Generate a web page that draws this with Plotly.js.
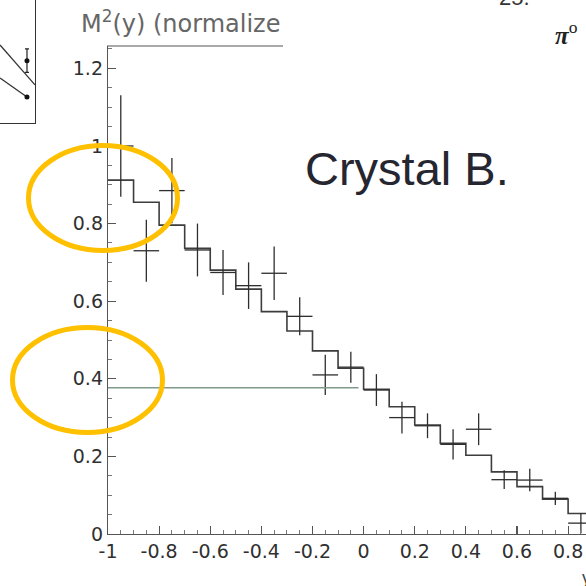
<!DOCTYPE html>
<html>
<head>
<meta charset="utf-8">
<script src="https://cdn.plot.ly/plotly-3.0.1.min.js"></script>
<style>
  html, body { margin: 0; padding: 0; background: #fff; }
  #chart { width: 586px; height: 586px; }
</style>
</head>
<body>
<div id="chart"></div>
<script>
// Histogram of the model: lower bin edges and contents (bin width 0.1)
const binEdges = [-1.0, -0.9, -0.8, -0.7, -0.6, -0.5, -0.4, -0.3, -0.2, -0.1,
                  0.0, 0.1, 0.2, 0.3, 0.4, 0.5, 0.6, 0.7, 0.8];
const histValues = [0.912, 0.855, 0.796, 0.736, 0.680, 0.631, 0.573, 0.523, 0.472, 0.427,
                    0.373, 0.328, 0.281, 0.234, 0.203, 0.160, 0.122, 0.090, 0.053];

// Measured points (bin centres) with symmetric errors
const pointX = [-0.95, -0.85, -0.75, -0.65, -0.55, -0.45, -0.35, -0.25, -0.15, -0.05,
                0.05, 0.15, 0.25, 0.35, 0.45, 0.55, 0.65, 0.75, 0.85];
const pointY = [1.000, 0.730, 0.885, 0.732, 0.674, 0.640, 0.672, 0.561, 0.410, 0.430,
                0.371, 0.300, 0.279, 0.231, 0.270, 0.140, 0.139, 0.092, 0.028];
const pointErr = [0.131, 0.080, 0.084, 0.068, 0.058, 0.060, 0.069, 0.049, 0.052, 0.040,
                  0.041, 0.041, 0.032, 0.039, 0.041, 0.024, 0.029, 0.017, 0.026];
const halfBin = 0.05;

// Reference level line
const levelX = [-1.0, -0.02];
const levelY = [0.377, 0.377];

// Tick labels
const xTickVals = [-1, -0.8, -0.6, -0.4, -0.2, 0, 0.2, 0.4, 0.6, 0.8];
const xTickText = ['-1', '-0.8', '-0.6', '-0.4', '-0.2', '0', '0.2', '0.4', '0.6', '0.8'];
const yTickVals = [0, 0.2, 0.4, 0.6, 0.8, 1, 1.2];
const yTickText = ['0', '0.2', '0.4', '0.6', '0.8', '1', '1.2'];

// Neighbouring small panel (its own unit coordinates)
const insetLineAX = [0.0, 1.0];
const insetLineAY = [0.634, 0.310];
const insetLineBX = [0.0, 0.771];
const insetLineBY = [0.366, 0.211];
const insetDotX = [0.771, 0.771];
const insetDotY = [0.507, 0.211];
const insetDotErr = [0.095, 0];

// Pixel helpers for a 586 x 586 figure with zero margins
const W = 586, H = 586;
const px = v => v / W;
const py = v => 1 - v / H;

const stepX = binEdges.concat([binEdges[binEdges.length - 1] + 0.1]);
const stepY = histValues.concat([histValues[histValues.length - 1]]);

const ink = '#2e2e2e';
const axisInk = '#555';
const gold = '#FFC000';

const traces = [
  {
    x: stepX, y: stepY, type: 'scatter', mode: 'lines',
    line: { shape: 'hv', color: '#3d3d3d', width: 1.6 },
    hoverinfo: 'skip', showlegend: false
  },
  {
    x: pointX, y: pointY, type: 'scatter', mode: 'markers',
    marker: { size: 1, color: 'rgba(0,0,0,0)' },
    error_y: { type: 'data', array: pointErr, symmetric: true, width: 0, thickness: 1.3, color: ink },
    error_x: { type: 'constant', value: halfBin, width: 0, thickness: 1.3, color: ink },
    showlegend: false
  },
  {
    x: levelX, y: levelY, type: 'scatter', mode: 'lines',
    line: { color: '#7f9a8b', width: 1.5 },
    showlegend: false
  },
  {
    x: insetLineAX, y: insetLineAY, xaxis: 'x2', yaxis: 'y2', type: 'scatter', mode: 'lines',
    line: { color: '#333', width: 1.3 }, showlegend: false
  },
  {
    x: insetLineBX, y: insetLineBY, xaxis: 'x2', yaxis: 'y2', type: 'scatter', mode: 'lines',
    line: { color: '#333', width: 1.3 }, showlegend: false
  },
  {
    x: insetDotX, y: insetDotY, xaxis: 'x2', yaxis: 'y2', type: 'scatter', mode: 'markers',
    marker: { size: 5, color: '#111' },
    error_y: { type: 'data', array: insetDotErr, width: 2, thickness: 1.2, color: '#222' },
    showlegend: false
  }
];

const tickFont = { family: 'DejaVu Sans, sans-serif', size: 19, color: '#303030' };

const layout = {
  width: W, height: H,
  margin: { l: 0, r: 0, t: 0, b: 0 },
  paper_bgcolor: '#fff', plot_bgcolor: '#fff',
  showlegend: false,
  title: {
    text: 'M<sup>2</sup>(y) (normalize',
    x: px(81), xanchor: 'left', xref: 'paper',
    y: py(24), yanchor: 'middle', yref: 'paper',
    font: { family: 'DejaVu Sans, sans-serif', size: 24, color: '#666' }
  },
  xaxis: {
    domain: [px(108), 1],
    range: [-1, 0.870],
    showgrid: false, zeroline: false,
    showline: true, linecolor: axisInk, linewidth: 1.2,
    ticks: 'inside', ticklen: 8, tickwidth: 1.1, tickcolor: axisInk,
    tickvals: xTickVals, ticktext: xTickText,
    tickfont: tickFont,
    minor: { dtick: 0.05, ticks: 'inside', ticklen: 4, tickwidth: 1, tickcolor: '#777', showgrid: false },
    fixedrange: true
  },
  yaxis: {
    domain: [py(534), py(46)],
    range: [0, 1.2577],
    showgrid: false, zeroline: false,
    showline: true, linecolor: axisInk, linewidth: 1.2,
    ticks: 'inside', ticklen: 8, tickwidth: 1.1, tickcolor: axisInk,
    tickvals: yTickVals, ticktext: yTickText,
    tickfont: tickFont,
    minor: { dtick: 0.05, ticks: 'inside', ticklen: 4, tickwidth: 1, tickcolor: '#777', showgrid: false },
    fixedrange: true
  },
  xaxis2: {
    domain: [0, px(35)], anchor: 'y2', range: [0, 1],
    showgrid: false, zeroline: false, showticklabels: false, ticks: '',
    showline: true, linecolor: '#333', linewidth: 1.3
  },
  yaxis2: {
    domain: [py(123), 1], anchor: 'x2', side: 'right', range: [0, 1],
    showgrid: false, zeroline: false, showticklabels: false, ticks: '',
    showline: true, linecolor: '#333', linewidth: 1.3
  },
  shapes: [
    // top frame of the plot
    { type: 'line', xref: 'paper', yref: 'paper', x0: px(107), x1: px(283), y0: py(46), y1: py(46),
      line: { color: axisInk, width: 1.2 } },
    // highlight rings
    { type: 'circle', xref: 'paper', yref: 'paper', layer: 'above',
      x0: px(28.5), x1: px(177.5), y0: py(145.5), y1: py(250.5),
      line: { color: gold, width: 5 } },
    { type: 'circle', xref: 'paper', yref: 'paper', layer: 'above',
      x0: px(12.5), x1: px(162.5), y0: py(327.5), y1: py(432.5),
      line: { color: gold, width: 5 } }
  ],
  annotations: [
    { text: 'Crystal B.', xref: 'paper', yref: 'paper', x: px(303), y: py(169),
      xanchor: 'left', yanchor: 'middle', showarrow: false,
      font: { family: 'Liberation Sans, Arial, sans-serif', size: 47, color: '#262630' } },
    { text: '25.', xref: 'paper', yref: 'paper', x: px(497), y: py(-3),
      xanchor: 'left', yanchor: 'middle', showarrow: false,
      font: { family: 'Liberation Sans, Arial, sans-serif', size: 22, color: '#333' } },
    { text: '<b><i>π</i></b><sup>o</sup>', xref: 'paper', yref: 'paper', x: px(553), y: py(33),
      xanchor: 'left', yanchor: 'middle', showarrow: false,
      font: { family: 'Liberation Serif, serif', size: 25, color: '#222' } },
    { text: 'y', xref: 'paper', yref: 'paper', x: px(580), y: py(578),
      xanchor: 'left', yanchor: 'middle', showarrow: false,
      font: { family: 'Liberation Sans, Arial, sans-serif', size: 18, color: '#444' } }
  ]
};

Plotly.newPlot('chart', traces, layout, { displayModeBar: false, staticPlot: true });
</script>
</body>
</html>
